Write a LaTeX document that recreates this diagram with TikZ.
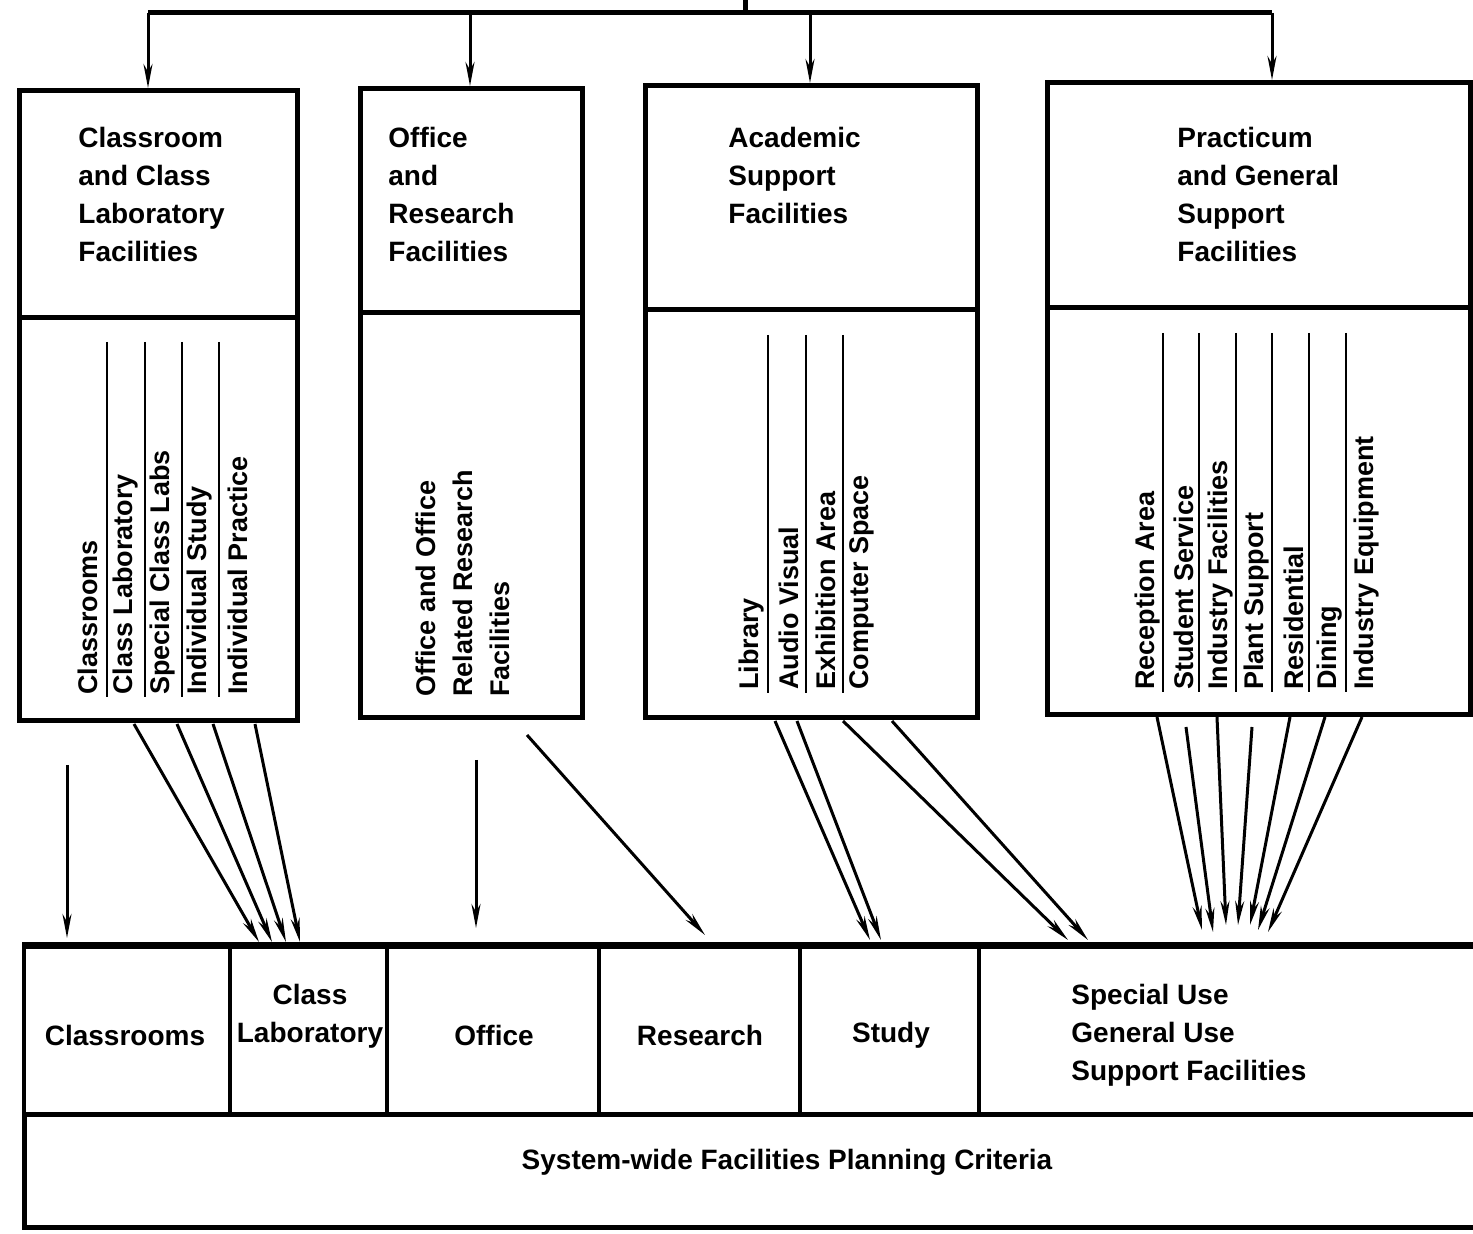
\documentclass[tikz,border=0pt]{standalone}
\usepackage{fontspec}
\setmainfont{Liberation Sans}
\usetikzlibrary{arrows.meta}
\begin{document}
\begin{tikzpicture}[x=0.5pt,y=-0.5pt,
  box/.style={draw, line width=2.5pt, anchor=north west, inner sep=0pt},
  cell/.style={draw, line width=2pt, anchor=north west, inner sep=0pt, minimum height=83.5pt},
  title/.style={anchor=north west, align=left, inner sep=0pt, font=\bfseries\fontsize{14}{19}\selectfont},
  item/.style={rotate=90, anchor=west, inner sep=0pt, font=\bfseries\fontsize{13.5}{18.5}\selectfont},
  sepline/.style={line width=1pt},
  arr/.style={line width=1.5pt, -{Stealth[length=12pt,width=4.5pt]}},
  lab/.style={font=\bfseries\fontsize{14}{19}\selectfont, align=center, inner sep=0pt}]
\useasboundingbox[fill=white] (0,0) rectangle (1473,1234);

% top boxes
\node[box, minimum width=139pt, minimum height=315pt] (b1) at (17,88) {};
\node[box, minimum width=111pt, minimum height=314.5pt] (b2) at (358,86) {};
\node[box, minimum width=166pt, minimum height=316pt] (b3) at (643,83) {};
\node[box, minimum width=211.5pt, minimum height=316pt] (b4) at (1045,80) {};
\draw[line width=2.5pt] (b1.west |- 0,318) -- (b1.east |- 0,318);
\draw[line width=2.5pt] (b2.west |- 0,313) -- (b2.east |- 0,313);
\draw[line width=2.5pt] (b3.west |- 0,310) -- (b3.east |- 0,310);
\draw[line width=2.5pt] (b4.west |- 0,308) -- (b4.east |- 0,308);

% titles
\node[title] (t1) at (78,127) {Classroom\\and Class\\Laboratory\\Facilities};
\node[title] (t2) at (388,127) {Office\\and\\Research\\Facilities};
\node[title] (t3) at (728,127) {Academic\\Support\\Facilities};
\node[title] (t4) at (1177,127) {Practicum\\and General\\Support\\Facilities};

% top distribution
\coordinate (root) at (745,0);
\coordinate (j) at (745,13);
\coordinate (d1) at (148,13);
\coordinate (d2) at (470,13);
\coordinate (d3) at (810,13);
\coordinate (d4) at (1272,13);
\draw[line width=2.5pt] (root) -- (j);
\draw[line width=2.5pt] (d1) -- (d4);
\draw[arr] (d1) -- (d1 |- b1.north);
\draw[arr] (d2) -- (d2 |- b2.north);
\draw[arr] (d3) -- (d3 |- b3.north);
\draw[arr] (d4) -- (d4 |- b4.north);

% box 1 items
\node[item] (i11) at (88,695) {Classrooms};
\node[item] (i12) at (126,695) {Class Laboratory};
\node[item] (i13) at (163,695) {Special Class Labs};
\node[item] (i14) at (200,695) {Individual Study};
\node[item] (i15) at (238,695) {Individual Practice};
\foreach \x in {107,145,182,219} \draw[sepline] (\x,342) -- (\x,697);

% box 2 item
\node[item, align=left] (i21) at (463,697) {Office and Office\\Related Research\\Facilities};

% box 3 items
\node[item] (i31) at (752,690) {Library};
\node[item] (i32) at (789,690) {Audio Visual};
\node[item] (i33) at (826,690) {Exhibition Area};
\node[item] (i34) at (862,690) {Computer Space};
\foreach \x in {768,806,843} \draw[sepline] (\x,335) -- (\x,693);

% box 4 items
\node[item] (i41) at (1148,690) {Reception Area};
\node[item] (i42) at (1184,690) {Student Service};
\node[item] (i43) at (1221,690) {Industry Facilities};
\node[item] (i44) at (1257,690) {Plant Support};
\node[item] (i45) at (1294,690) {Residential};
\node[item] (i46) at (1330,690) {Dining};
\node[item] (i47) at (1367,690) {Industry Equipment};
\foreach \x in {1163,1199,1236,1272,1309,1346} \draw[sepline] (\x,333) -- (\x,692);

% bottom row
\node[cell, minimum width=103pt] (c1) at (22,945) {};
\node[cell, minimum width=78.5pt] (c2) at (228,945) {};
\node[cell, minimum width=106pt] (c3) at (385,945) {};
\node[cell, minimum width=100.5pt] (c4) at (597,945) {};
\node[cell, minimum width=89.5pt] (c5) at (798,945) {};
\node[cell, minimum width=255pt] (c6) at (977,945) {};
\node[box, minimum width=732.5pt, minimum height=56.5pt] (crit) at (22,1112) {};
\draw[line width=3pt] (22,945) -- (1490,945);

\node[lab] (l1) at (125,1035) {Classrooms};
\node[lab] (l2) at (310,1016) {Class\\Laboratory};
\node[lab] (l3) at (494,1035) {Office};
\node[lab] (l4) at (700,1035) {Research};
\node[lab] (l5) at (891,1035) {Study};
\node[lab, align=left, anchor=west] (l6) at (1071,1035) {Special Use\\General Use\\Support Facilities};
\node[lab] (l7) at (787,1162) {System-wide Facilities Planning Criteria};

% arrows box 1
\coordinate (s10) at (67,765);   \coordinate (e10) at (67,938);
\coordinate (s11) at (134,724);  \coordinate (e11) at (259,942);
\coordinate (s12) at (177,724);  \coordinate (e12) at (272,942);
\coordinate (s13) at (213,724);  \coordinate (e13) at (286,942);
\coordinate (s14) at (255,724);  \coordinate (e14) at (300,942);
\draw[arr] (s10) -- (e10);
\foreach \i in {1,...,4} \draw[arr] (s1\i) -- (e1\i);

% arrows box 2
\coordinate (s21) at (476,760);  \coordinate (e21) at (476,928);
\coordinate (s22) at (527,735);  \coordinate (e22) at (705,935);
\draw[arr] (s21) -- (e21);
\draw[arr] (s22) -- (e22);

% arrows box 3
\coordinate (s31) at (775,721);  \coordinate (e31) at (870,940);
\coordinate (s32) at (797,721);  \coordinate (e32) at (881,940);
\coordinate (s33) at (843,721);  \coordinate (e33) at (1068,940);
\coordinate (s34) at (892,721);  \coordinate (e34) at (1088,940);
\foreach \i in {1,...,4} \draw[arr] (s3\i) -- (e3\i);

% arrows box 4
\coordinate (s41) at (1157,717); \coordinate (e41) at (1202,930);
\coordinate (s42) at (1186,727); \coordinate (e42) at (1213,932);
\coordinate (s43) at (1217,717); \coordinate (e43) at (1226,925);
\coordinate (s44) at (1252,727); \coordinate (e44) at (1238,925);
\coordinate (s45) at (1290,717); \coordinate (e45) at (1250,925);
\coordinate (s46) at (1325,717); \coordinate (e46) at (1258,930);
\coordinate (s47) at (1362,717); \coordinate (e47) at (1268,932);
\foreach \i in {1,...,7} \draw[arr] (s4\i) -- (e4\i);
\end{tikzpicture}
\end{document}
